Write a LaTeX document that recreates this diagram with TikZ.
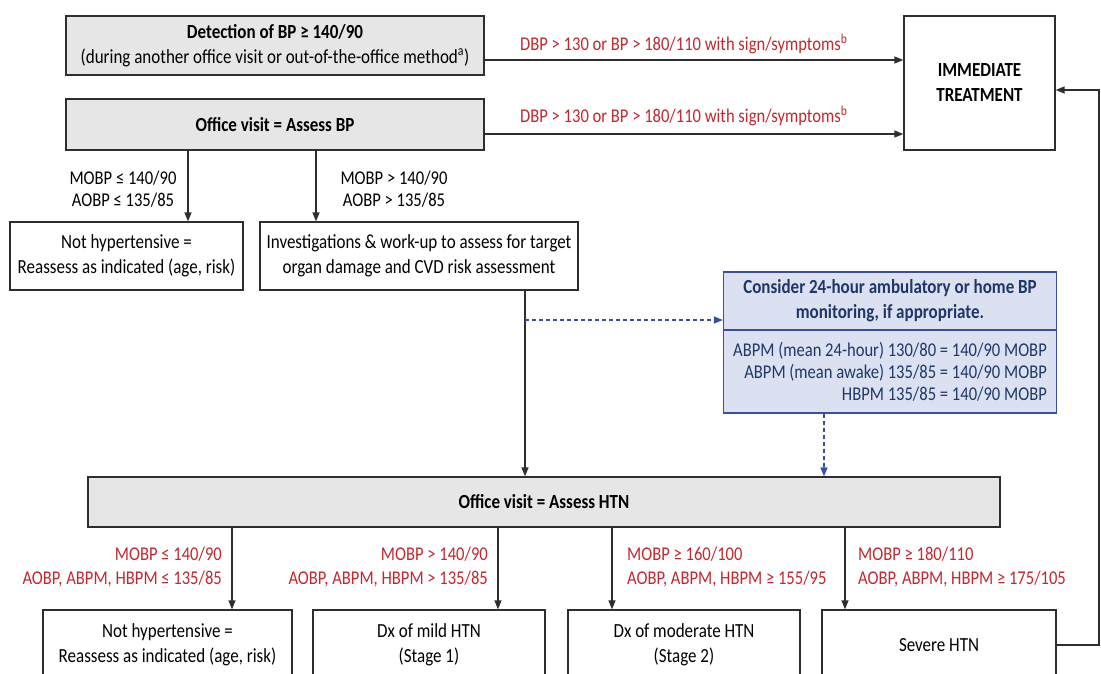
\documentclass[tikz,border=0pt]{standalone}
\usepackage{fontspec}
\setmainfont{Carlito}[FakeStretch=0.85]
\usetikzlibrary{arrows.meta}
\definecolor{cred}{HTML}{C4262E}
\definecolor{cnavy}{HTML}{1E3768}
\definecolor{cblue}{HTML}{3A4E9E}
\definecolor{cboxblue}{HTML}{DCE1F1}
\definecolor{cgreyfill}{HTML}{E6E6E6}
\definecolor{cline}{HTML}{2E2E2E}
\newcommand\basefont{\fontsize{20}{25}\selectfont}

\tikzset{
  box/.style={draw=cline,line width=1.3pt,align=center,inner sep=0pt},
  greybox/.style={box,fill=cgreyfill,font=\basefont\bfseries},
  bluebox/.style={draw=cblue,line width=1.3pt,fill=cboxblue,text=cnavy,inner sep=0pt},
  cond/.style={text=cred,inner sep=0pt,font=\fontsize{19.5}{24}\selectfont},
  arr/.style={-{Triangle[width=7pt,length=9pt]},line width=1.3pt,draw=cline},
  darr/.style={-{Triangle[width=7pt,length=9pt]},line width=1.3pt,draw=cblue,dash pattern=on 4pt off 3pt}
}

\begin{document}
\begin{tikzpicture}[x=1pt,y=-1pt,font=\basefont]
  \useasboundingbox (0,0) rectangle (1101,673);
  % top part
  \node[greybox,minimum width=418,minimum height=59] (det) at (275,45.5)
    {Detection of BP ≥ 140/90\\\mdseries(during another office visit or out-of-the-office method\textsuperscript{a})};
  \node[greybox,minimum width=418,minimum height=51] (visit) at (275,124.5) {Office visit = Assess BP};
  \node[box,font=\basefont\bfseries,minimum width=151,minimum height=134] (imm) at (979.5,83) {IMMEDIATE\\TREATMENT};
  \draw[arr] (det.east |- 0,60) -- (imm.west |- 0,60);
  \draw[arr] (visit.east |- 0,134) -- (imm.west |- 0,134);
  \node[cond,anchor=west] (c1) at (520,44) {DBP > 130 or BP > 180/110 with sign/symptoms\textsuperscript{b}};
  \node[cond,anchor=west] (c2) at (520,116) {DBP > 130 or BP > 180/110 with sign/symptoms\textsuperscript{b}};

  \node[box,minimum width=233,minimum height=68] (nh1) at (126.5,256) {Not hypertensive =\\Reassess as indicated (age, risk)};
  \node[box,minimum width=318,minimum height=68] (inv) at (419,256) {Investigations \& work-up to assess for target\\organ damage and CVD risk assessment};
  \draw[arr] (visit.south -| 188,0) -- (nh1.north -| 188,0);
  \draw[arr] (visit.south -| 316,0) -- (inv.north -| 316,0);
  \node[align=center,inner sep=0pt,font=\fontsize{19.5}{22}\selectfont] (l1) at (123,189) {MOBP ≤ 140/90\\AOBP ≤ 135/85};
  \node[align=center,inner sep=0pt,font=\fontsize{19.5}{22}\selectfont] (l2) at (394,189) {MOBP > 140/90\\AOBP > 135/85};

  % monitoring box
  \node[bluebox,font=\basefont\bfseries,align=center,minimum width=333,minimum height=58] (hdr) at (890,301)
    {Consider 24-hour ambulatory or home BP\\monitoring, if appropriate.};
  \node[bluebox,align=right,minimum width=333,minimum height=83,
    font=\fontsize{19.5}{22}\selectfont] (mon) at (890,371.5)
    {ABPM (mean 24-hour) 130/80 = 140/90 MOBP\\ABPM (mean awake) 135/85 = 140/90 MOBP\\HBPM 135/85 = 140/90 MOBP};

  \node[greybox,minimum width=912,minimum height=50] (htn) at (544,502) {Office visit = Assess HTN};
  \coordinate (split) at (525,320);
  \draw[arr] (inv.south -| split) -- (htn.north -| split);
  \draw[darr] (split) -- (split -| hdr.west);
  \draw[darr] (mon.south -| 824,0) -- (htn.north -| 824,0);

  % bottom row
  \node[box,minimum width=249,minimum height=70] (nh2) at (167.5,645) {Not hypertensive =\\Reassess as indicated (age, risk)};
  \node[box,minimum width=232,minimum height=70] (mild) at (429,645) {Dx of mild HTN\\(Stage 1)};
  \node[box,minimum width=232,minimum height=70] (mod) at (684,645) {Dx of moderate HTN\\(Stage 2)};
  \node[box,minimum width=234,minimum height=70] (sev) at (939,645) {Severe HTN};
  \draw[arr] (htn.south -| 232,0) -- (nh2.north -| 232,0);
  \draw[arr] (htn.south -| 498,0) -- (mild.north -| 498,0);
  \draw[arr] (htn.south -| 612,0) -- (mod.north -| 612,0);
  \draw[arr] (htn.south -| 845,0) -- (sev.north -| 845,0);
  \node[cond,align=right,anchor=east] (c3) at (222,567) {MOBP ≤ 140/90\\AOBP, ABPM, HBPM ≤ 135/85};
  \node[cond,align=right,anchor=east] (c4) at (488,567) {MOBP > 140/90\\AOBP, ABPM, HBPM > 135/85};
  \node[cond,align=left,anchor=west] (c5) at (627,567) {MOBP ≥ 160/100\\AOBP, ABPM, HBPM ≥ 155/95};
  \node[cond,align=left,anchor=west] (c6) at (858,567) {MOBP ≥ 180/110\\AOBP, ABPM, HBPM ≥ 175/105};

  % back to immediate treatment
  \coordinate (rt) at (1099,90);
  \draw[arr] (sev.east) -| (rt) -- (rt -| imm.east);
\end{tikzpicture}
\end{document}
